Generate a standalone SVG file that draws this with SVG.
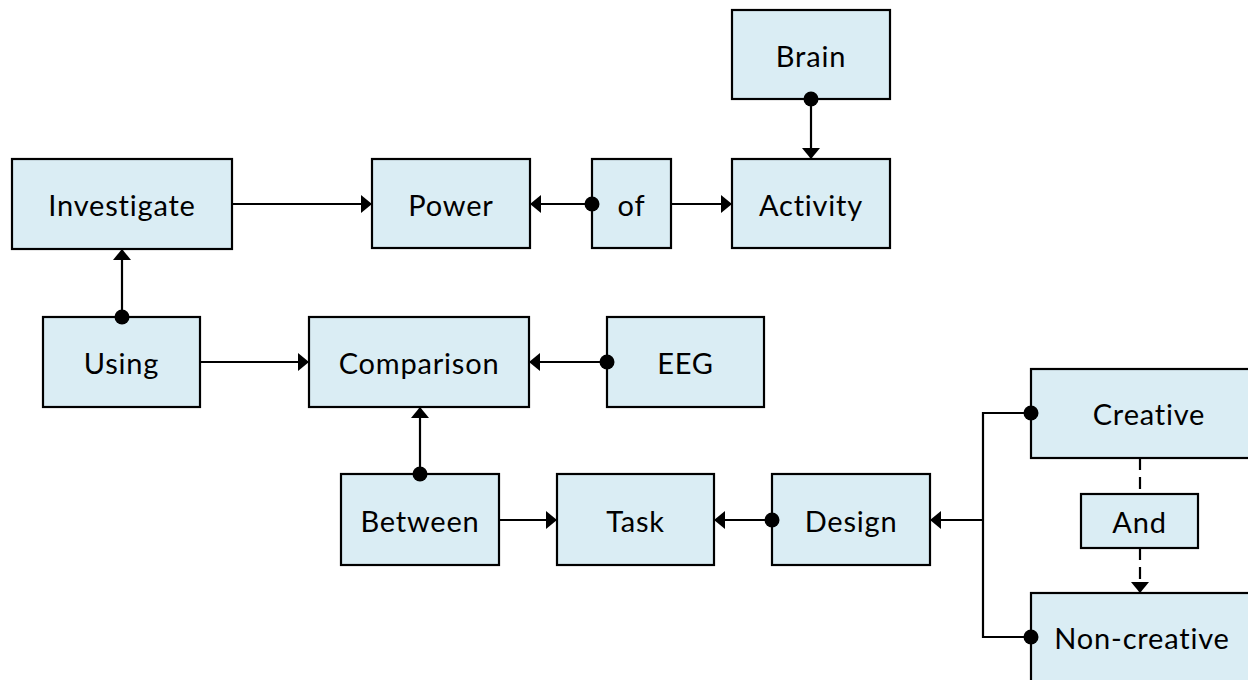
<svg xmlns="http://www.w3.org/2000/svg" width="1248" height="680" viewBox="0 0 1248 680">
  <style>
    .box { fill: #daedf4; stroke: #000; stroke-width: 2.2; }
    .lbl { font-family: Lato, "Liberation Sans", sans-serif; font-size: 29px; letter-spacing: 0.8px; fill: #000; text-anchor: middle; dominant-baseline: central; }
    .ln { fill: none; stroke: #000; stroke-width: 2.2; }
    .dash { stroke-dasharray: 12 7; }
    .dot { fill: #000; }
  </style>
  <defs>
    <marker id="arrow" viewBox="0 0 11 18" refX="11" refY="9" markerWidth="11" markerHeight="18" markerUnits="userSpaceOnUse" orient="auto">
      <path d="M0,0 L11,9 L0,18 Z" fill="#000"/>
    </marker>
  </defs>

  <rect width="1248" height="680" fill="#fff"/>

  <g id="node-investigate">
    <rect class="box" x="12" y="159" width="220" height="90"/>
    <text class="lbl" x="122" y="204">Investigate</text>
  </g>
  <g id="node-power">
    <rect class="box" x="372" y="159" width="158" height="89"/>
    <text class="lbl" x="451" y="204">Power</text>
  </g>
  <g id="node-of">
    <rect class="box" x="592" y="159" width="79" height="89"/>
    <text class="lbl" x="631.5" y="204">of</text>
  </g>
  <g id="node-activity">
    <rect class="box" x="732" y="159" width="158" height="89"/>
    <text class="lbl" x="811" y="204">Activity</text>
  </g>
  <g id="node-brain">
    <rect class="box" x="732" y="10" width="158" height="89"/>
    <text class="lbl" x="811" y="55">Brain</text>
  </g>
  <g id="node-using">
    <rect class="box" x="43" y="317" width="157" height="90"/>
    <text class="lbl" x="121.5" y="362">Using</text>
  </g>
  <g id="node-comparison">
    <rect class="box" x="309" y="317" width="220" height="90"/>
    <text class="lbl" x="419" y="362">Comparison</text>
  </g>
  <g id="node-eeg">
    <rect class="box" x="607" y="317" width="157" height="90"/>
    <text class="lbl" x="685.5" y="362">EEG</text>
  </g>
  <g id="node-between">
    <rect class="box" x="341" y="474" width="158" height="91"/>
    <text class="lbl" x="420" y="520">Between</text>
  </g>
  <g id="node-task">
    <rect class="box" x="557" y="474" width="157" height="91"/>
    <text class="lbl" x="635.5" y="520">Task</text>
  </g>
  <g id="node-design">
    <rect class="box" x="772" y="474" width="158" height="91"/>
    <text class="lbl" x="851" y="520">Design</text>
  </g>
  <g id="node-creative">
    <rect class="box" x="1031" y="369" width="236" height="89"/>
    <text class="lbl" x="1149" y="413">Creative</text>
  </g>
  <g id="node-and">
    <rect class="box" x="1081" y="494" width="117" height="54"/>
    <text class="lbl" x="1139.5" y="521">And</text>
  </g>
  <g id="node-noncreative">
    <rect class="box" x="1031" y="593" width="236" height="100"/>
    <text class="lbl" x="1142" y="637">Non-creative</text>
  </g>

  <!-- connectors drawn over the boxes so the start dots sit on the edges -->
  <g id="connectors">
    <line class="ln" x1="232" y1="204" x2="372" y2="204" marker-end="url(#arrow)"/>
    <line class="ln" x1="592" y1="204" x2="530" y2="204" marker-end="url(#arrow)"/>
    <circle class="dot" cx="592" cy="204" r="7.5"/>
    <line class="ln" x1="671" y1="204" x2="732" y2="204" marker-end="url(#arrow)"/>
    <line class="ln" x1="811" y1="99" x2="811" y2="159" marker-end="url(#arrow)"/>
    <circle class="dot" cx="811" cy="99" r="7.5"/>
    <line class="ln" x1="122" y1="317" x2="122" y2="249" marker-end="url(#arrow)"/>
    <circle class="dot" cx="122" cy="317" r="7.5"/>
    <line class="ln" x1="200" y1="362" x2="309" y2="362" marker-end="url(#arrow)"/>
    <line class="ln" x1="607" y1="362" x2="529" y2="362" marker-end="url(#arrow)"/>
    <circle class="dot" cx="607" cy="362" r="7.5"/>
    <line class="ln" x1="420" y1="474" x2="420" y2="407" marker-end="url(#arrow)"/>
    <circle class="dot" cx="420" cy="474" r="7.5"/>
    <line class="ln" x1="499" y1="520" x2="557" y2="520" marker-end="url(#arrow)"/>
    <line class="ln" x1="772" y1="520" x2="714" y2="520" marker-end="url(#arrow)"/>
    <circle class="dot" cx="772" cy="520" r="7.5"/>
    <polyline class="ln" points="1031,413 983,413 983,637 1031,637"/>
    <line class="ln" x1="983" y1="520" x2="930" y2="520" marker-end="url(#arrow)"/>
    <circle class="dot" cx="1031" cy="413" r="7.5"/>
    <circle class="dot" cx="1031" cy="637" r="7.5"/>
    <line class="ln dash" x1="1140" y1="458" x2="1140" y2="494"/>
    <line class="ln dash" x1="1140" y1="548" x2="1140" y2="593" marker-end="url(#arrow)"/>
  </g>
</svg>
